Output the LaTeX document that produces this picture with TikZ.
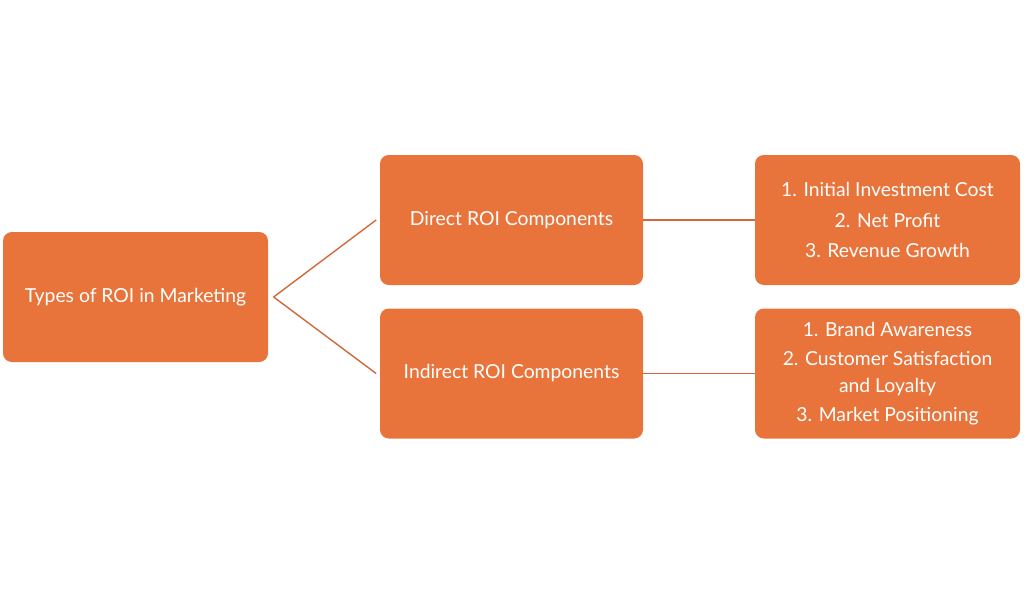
\documentclass[tikz,border=0pt]{standalone}
\usepackage{fontspec}
\setmainfont{Lato}
\usetikzlibrary{positioning}
\definecolor{roiorange}{HTML}{E8743B}
\definecolor{roiline}{HTML}{D2693A}
\begin{document}
\begin{tikzpicture}[x=0.02cm,y=-0.02cm]
    \tikzstyle{box}=[draw=none,fill=roiorange,rounded corners=5pt,text=white,
      minimum width=265*0.02cm,minimum height=130*0.02cm,align=center,font=\fontsize{11}{15.5}\selectfont]
    \useasboundingbox (0,0) rectangle (1024,595);
    \node [box] (types) at (135.5,297) {Types of ROI in Marketing};
    \node [box,minimum width=263*0.02cm] (direct) at (511.5,220) {Direct ROI Components};
    \node [box,minimum width=263*0.02cm] (indirect) at (511.5,373.5) {Indirect ROI Components};
    \node [box] (dlist) at (887.5,220) {1. Initial Investment Cost\\[2pt] 2. Net Profit\\[2pt] 3. Revenue Growth};
    \node [box] (ilist) at (887.5,373.5) {1. Brand Awareness\\[1pt] 2. Customer Satisfaction\\ and Loyalty\\[1pt] 3. Market Positioning};
    \draw [roiline,line width=0.8pt] ([xshift=3pt]types.east) -- ([xshift=-2pt]direct.west);
    \draw [roiline,line width=0.8pt] ([xshift=3pt]types.east) -- ([xshift=-2pt]indirect.west);
    \draw [roiline,line width=0.8pt] (direct) -- (dlist);
    \draw [roiline,line width=0.8pt] (indirect) -- (ilist);
\end{tikzpicture}
\end{document}
